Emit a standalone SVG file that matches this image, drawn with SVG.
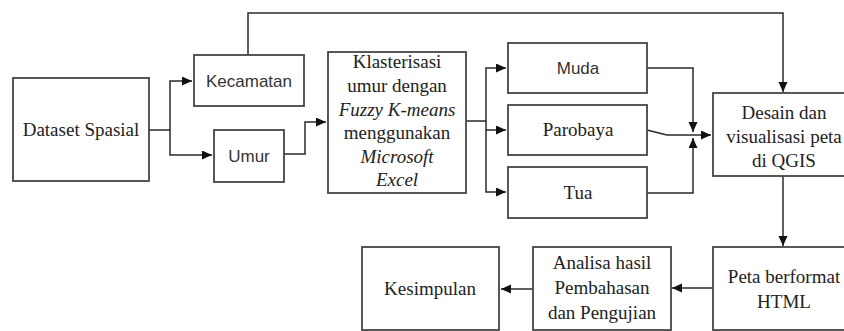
<svg xmlns="http://www.w3.org/2000/svg" width="844" height="331" viewBox="0 0 844 331">
<style>
.box{fill:#fff;stroke:#454545;stroke-width:1.8}
.ser{font-family:"Liberation Serif","Times New Roman",serif;font-size:19px;fill:#222;text-anchor:middle}
.san{font-family:"Liberation Sans",Arial,sans-serif;font-size:17px;fill:#333;text-anchor:middle}
.it{font-style:italic}
.con{fill:none;stroke:#2a2a2a;stroke-width:1.5}
</style>
<defs>
<marker id="ah" markerUnits="userSpaceOnUse" markerWidth="11" markerHeight="10" refX="10" refY="4.5" orient="auto">
<path d="M0,0 L10,4.5 L0,9 z" fill="#111"/>
</marker>
</defs>
<g id="connectors">
<path class="con" d="M149,130 H170 V81 H192" marker-end="url(#ah)"/>
<path class="con" d="M170,130 V155 H212" marker-end="url(#ah)"/>
<path class="con" d="M284,154 H305 V122 H326" marker-end="url(#ah)"/>
<path class="con" d="M248,55 V13 H783 V92" marker-end="url(#ah)"/>
<path class="con" d="M466,121 H486 V68 H506" marker-end="url(#ah)"/>
<path class="con" d="M486,121 V130 H506" marker-end="url(#ah)"/>
<path class="con" d="M486,130 V192 H506" marker-end="url(#ah)"/>
<path class="con" d="M647,68 H693 V132" marker-end="url(#ah)"/>
<path class="con" d="M647,193 H693 V138" marker-end="url(#ah)"/>
<path class="con" d="M647,130 L667,135 H711" marker-end="url(#ah)"/>
<path class="con" d="M783,176 V246" marker-end="url(#ah)"/>
<path class="con" d="M713,288 H672" marker-end="url(#ah)"/>
<path class="con" d="M533,289 H501" marker-end="url(#ah)"/>
</g>
<g id="dataset">
<rect class="box" x="13" y="78" width="136" height="103"/>
<text class="ser" x="81" y="136">Dataset Spasial</text>
</g>
<g id="kecamatan">
<rect class="box" x="194" y="55" width="110" height="51"/>
<text class="san" x="249" y="87">Kecamatan</text>
</g>
<g id="umur">
<rect class="box" x="214" y="130" width="70" height="52"/>
<text class="san" x="249" y="162">Umur</text>
</g>
<g id="klasterisasi">
<rect class="box" x="328" y="52" width="138" height="141"/>
<text class="ser" x="397" y="68">Klasterisasi</text>
<text class="ser" x="397" y="92">umur dengan</text>
<text class="ser it" x="397" y="116">Fuzzy K-means</text>
<text class="ser" x="397" y="139">menggunakan</text>
<text class="ser it" x="397" y="163">Microsoft</text>
<text class="ser it" x="397" y="186">Excel</text>
</g>
<g id="muda">
<rect class="box" x="508" y="43" width="139" height="50"/>
<text class="san" x="578" y="74">Muda</text>
</g>
<g id="parobaya">
<rect class="box" x="508" y="105" width="139" height="50"/>
<text class="ser" x="578" y="136">Parobaya</text>
</g>
<g id="tua">
<rect class="box" x="508" y="167" width="139" height="51"/>
<text class="ser" x="578" y="199">Tua</text>
</g>
<g id="desain">
<rect class="box" x="713" y="93" width="140" height="83"/>
<text class="ser" x="784" y="119">Desain dan</text>
<text class="ser" x="784" y="143">visualisasi peta</text>
<text class="ser" x="784" y="167">di QGIS</text>
</g>
<g id="peta">
<rect class="box" x="713" y="247" width="140" height="83"/>
<text class="ser" x="784" y="283">Peta berformat</text>
<text class="ser" x="784" y="308">HTML</text>
</g>
<g id="analisa">
<rect class="box" x="533" y="247" width="138" height="83"/>
<text class="ser" x="602" y="269">Analisa hasil</text>
<text class="ser" x="602" y="294">Pembahasan</text>
<text class="ser" x="602" y="319">dan Pengujian</text>
</g>
<g id="kesimpulan">
<rect class="box" x="362" y="247" width="137" height="83"/>
<text class="ser" x="430" y="295">Kesimpulan</text>
</g>
</svg>
